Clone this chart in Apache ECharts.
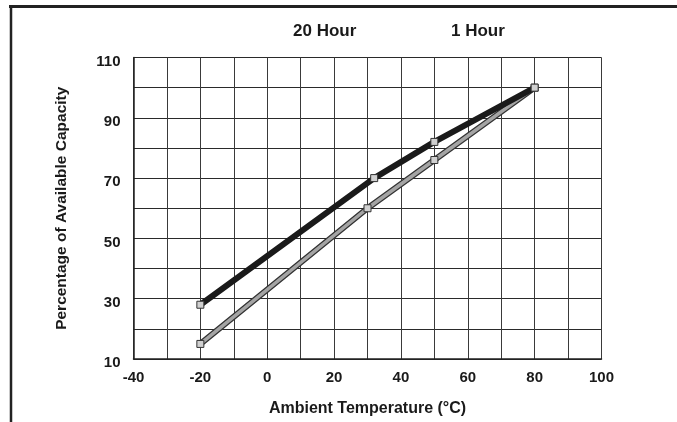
<!DOCTYPE html>
<html>
<head>
<meta charset="utf-8">
<script src="https://cdn.jsdelivr.net/npm/echarts@6/dist/echarts.min.js"></script>
<style>html,body{margin:0;padding:0;background:#fff}#c{width:677px;height:422px}</style>
</head>
<body>
<div id="c"></div>
<script>
// Data
const seriesNames = ['20 Hour', '1 Hour'];
const hour20X = [-20, 32, 50, 80];
const hour20Y = [28, 70, 82, 100];
const hour1X = [-20, 30, 50, 80];
const hour1Y = [15, 60, 76, 100];
const xTickLabels = [-40, -20, 0, 20, 40, 60, 80, 100];
const yTickLabels = [10, 30, 50, 70, 90, 110];

const pairs = (xs, ys) => xs.map((x, i) => [x, ys[i]]);
const FONT = '"Liberation Sans", Arial, sans-serif';
const markerStyle = { color: '#d0d0d0', borderColor: '#333', borderWidth: 1 };

const chart = echarts.init(document.getElementById('c'), null, { renderer: 'canvas' });
chart.setOption({
  animation: false,
  backgroundColor: '#fff',
  textStyle: { fontFamily: FONT },
  graphic: [
    { type: 'line', shape: { x1: 9, y1: 6.5, x2: 677, y2: 6.5 }, style: { stroke: '#222', lineWidth: 3 } },
    { type: 'line', shape: { x1: 11, y1: 5, x2: 11, y2: 422 }, style: { stroke: '#222', lineWidth: 2.5 } }
  ],
  legend: [
    { data: [seriesNames[0]], left: 282, top: 18, icon: 'rect', itemWidth: 0, itemHeight: 0,
      textStyle: { fontFamily: FONT, fontWeight: 'bold', fontSize: 17, color: '#1a1a1a' }, selectedMode: false },
    { data: [seriesNames[1]], left: 440, top: 18, icon: 'rect', itemWidth: 0, itemHeight: 0,
      textStyle: { fontFamily: FONT, fontWeight: 'bold', fontSize: 17, color: '#1a1a1a' }, selectedMode: false }
  ],
  grid: { left: 133.5, right: 75.5, top: 57.5, bottom: 63 },
  xAxis: {
    type: 'value', min: -40, max: 100, interval: 10,
    name: 'Ambient Temperature (°C)', nameLocation: 'middle', nameGap: 42,
    nameTextStyle: { fontFamily: FONT, fontWeight: 'bold', fontSize: 16, color: '#1a1a1a' },
    axisLine: { show: true, onZero: false, lineStyle: { color: '#222', width: 1.5 } },
    axisTick: { show: false },
    axisLabel: { margin: 11, fontFamily: FONT, fontWeight: 'bold', fontSize: 15, color: '#1a1a1a',
      formatter: v => (xTickLabels.indexOf(v) >= 0 ? String(v) : '') },
    splitLine: { show: true, lineStyle: { color: '#3a3a3a', width: 1 } }
  },
  yAxis: {
    type: 'value', min: 10, max: 110, interval: 10,
    name: 'Percentage of Available Capacity', nameLocation: 'middle', nameGap: 64, nameRotate: 90,
    nameTextStyle: { fontFamily: FONT, fontWeight: 'bold', fontSize: 15.5, color: '#1a1a1a' },
    axisLine: { show: true, onZero: false, lineStyle: { color: '#222', width: 1.5 } },
    axisTick: { show: false },
    axisLabel: { margin: 13, fontFamily: FONT, fontWeight: 'bold', fontSize: 15, color: '#1a1a1a',
      verticalAlign: 'top', lineHeight: 8,
      formatter: v => (yTickLabels.indexOf(v) >= 0 ? String(v) : '') },
    splitLine: { show: true, lineStyle: { color: '#2a2a2a', width: 1 } }
  },
  series: [
    { name: seriesNames[1] + ' outline', type: 'line', data: pairs(hour1X, hour1Y),
      symbol: 'none', lineStyle: { color: '#333', width: 6 }, itemStyle: { color: '#333' }, z: 2 },
    { name: seriesNames[1], type: 'line', data: pairs(hour1X, hour1Y),
      symbol: 'rect', symbolSize: 7, lineStyle: { color: '#a4a4a4', width: 3.5 },
      itemStyle: markerStyle, z: 3 },
    { name: seriesNames[0], type: 'line', data: pairs(hour20X, hour20Y),
      symbol: 'rect', symbolSize: 7, lineStyle: { color: '#1a1a1a', width: 6 },
      itemStyle: markerStyle, z: 4 }
  ]
});
</script>
</body>
</html>
